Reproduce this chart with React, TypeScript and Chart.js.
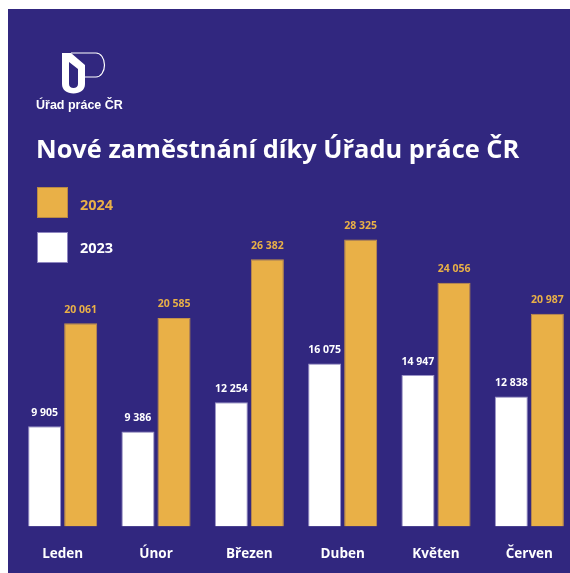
import React, { useEffect, useRef } from "react";
import { Chart, registerables } from "chart.js";

Chart.register(...registerables);

const months = ["Leden", "Únor", "Březen", "Duben", "Květen", "Červen"];
const values2023 = [9905, 9386, 12254, 16075, 14947, 12838];
const values2024 = [20061, 20585, 26382, 28325, 24056, 20987];
const seriesLabels = ["2023", "2024"];
const titleText = "Nové zaměstnání díky Úřadu práce ČR";
const logoText = "Úřad práce ČR";

const BG = "#31277f";
const ORANGE = "#e9b047";
const WHITE = "#ffffff";

const fmt = (n: number) => n.toString().replace(/\B(?=(\d{3})+(?!\d))/g, " ");

const decorPlugin = {
  id: "decor",
  afterDatasetsDraw(chart: any) {
    const ctx = chart.ctx as CanvasRenderingContext2D;
    ctx.save();
    // value labels
    chart.data.datasets.forEach((ds: any, di: number) => {
      const meta = chart.getDatasetMeta(di);
      ctx.fillStyle = di === 0 ? WHITE : ORANGE;
      ctx.font = "bold 10.5px 'Open Sans'";
      ctx.textAlign = "center";
      ctx.textBaseline = "alphabetic";
      meta.data.forEach((el: any, i: number) => {
        ctx.fillText(fmt(ds.data[i]), el.x, el.y - 10.5);
      });
    });
    // category labels
    const xs = chart.scales.x;
    ctx.fillStyle = WHITE;
    ctx.font = "bold 13.5px 'Open Sans'";
    chart.data.labels.forEach((lab: string, i: number) => {
      ctx.fillText(lab, xs.getPixelForTick(i), chart.chartArea.bottom + 31.8);
    });
    ctx.restore();
  },
  afterDraw(chart: any) {
    const ctx = chart.ctx as CanvasRenderingContext2D;
    ctx.save();
    ctx.translate(-8, -9);
    // logo
    const shape = new Path2D(
      "M62,53 L71,53 L85,65 L85,84 C85,90 80,93.5 73.5,93.5 C67,93.5 62,90 62,84 Z " +
        "M69,62 L78,69 L78,84 C78,86.5 76,88 73.5,88 C71,88 69,86.5 69,84 Z"
    );
    ctx.fillStyle = WHITE;
    ctx.fill(shape, "evenodd");
    const p = new Path2D("M71,53 L96,53 A8.5,12 0 0 1 96,77 L85,77");
    ctx.strokeStyle = WHITE;
    ctx.lineWidth = 1.2;
    ctx.stroke(p);
    ctx.font = "bold 12.5px 'Liberation Sans'";
    ctx.textAlign = "left";
    ctx.textBaseline = "alphabetic";
    ctx.fillText(logoText, 36, 109.3);
    // title
    ctx.font = "bold 25.4px 'Open Sans'";
    ctx.fillText(titleText, 36, 158);
    // legend
    ctx.fillStyle = ORANGE;
    ctx.fillRect(37, 187, 31, 31);
    ctx.strokeStyle = "#b98a45";
    ctx.lineWidth = 1;
    ctx.strokeRect(37.5, 187.5, 30, 30);
    ctx.fillStyle = WHITE;
    ctx.fillRect(37, 232, 31, 31);
    ctx.strokeStyle = "#8e86c0";
    ctx.strokeRect(37.5, 232.5, 30, 30);
    ctx.font = "bold 14.5px 'Open Sans'";
    ctx.fillStyle = ORANGE;
    ctx.fillText(seriesLabels[1], 80, 210);
    ctx.fillStyle = WHITE;
    ctx.fillText(seriesLabels[0], 80, 252.7);
    ctx.restore();
  },
};

export default function App() {
  const ref = useRef<HTMLCanvasElement>(null);
  useEffect(() => {
    if (!ref.current) return;
    const chart = new Chart(ref.current, {
      type: "bar",
      data: {
        labels: months,
        datasets: [
          {
            label: seriesLabels[0],
            data: values2023,
            backgroundColor: WHITE,
            borderColor: "#9c95c8",
            borderWidth: 1,
            categoryPercentage: 0.772,
            barPercentage: 0.917,
          },
          {
            label: seriesLabels[1],
            data: values2024,
            backgroundColor: ORANGE,
            borderColor: "#c2904a",
            borderWidth: 1,
            categoryPercentage: 0.772,
            barPercentage: 0.917,
          },
        ],
      },
      options: {
        animation: false,
        responsive: true,
        maintainAspectRatio: false,
        layout: { padding: { top: 173, left: 8, right: 12, bottom: 46.5 } },
        plugins: {
          legend: { display: false },
          title: { display: false },
          tooltip: { enabled: false },
        },
        scales: {
          x: {
            display: false,
          },
          y: {
            display: false,
            min: 0,
            max: 34000,
          },
        },
      },
      plugins: [decorPlugin],
    });
    return () => chart.destroy();
  }, []);
  return (
    <div
      style={{
        position: "absolute",
        left: 8,
        top: 9,
        width: 562,
        height: 564,
        overflow: "hidden",
        background: BG,
      }}
    >
      <div style={{ position: "relative", width: 580, height: 564 }}>
        <canvas ref={ref} />
      </div>
    </div>
  );
}
